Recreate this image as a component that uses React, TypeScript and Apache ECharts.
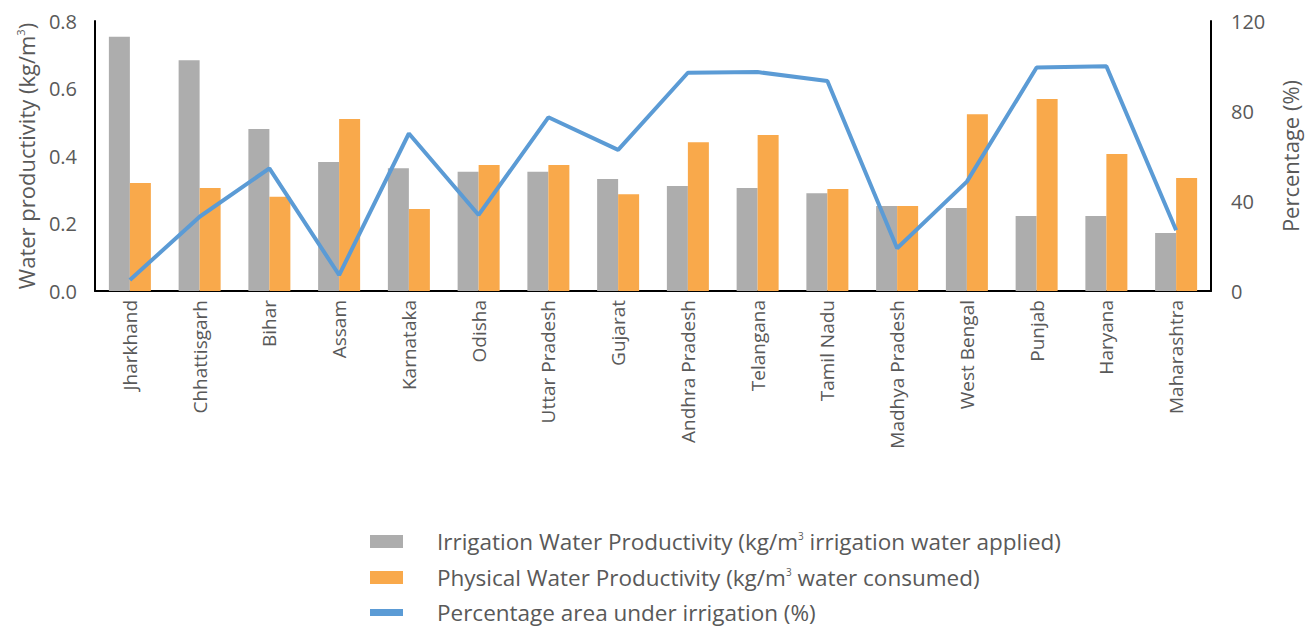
import React, { useEffect, useRef } from "react";
import * as echarts from "echarts";

const states = [
  "Jharkhand", "Chhattisgarh", "Bihar", "Assam", "Karnataka", "Odisha",
  "Uttar Pradesh", "Gujarat", "Andhra Pradesh", "Telangana", "Tamil Nadu",
  "Madhya Pradesh", "West Bengal", "Punjab", "Haryana", "Maharashtra",
];
const irrigationWP = [0.753, 0.684, 0.48, 0.382, 0.364, 0.353, 0.353, 0.332, 0.311, 0.305, 0.29, 0.252, 0.246, 0.222, 0.222, 0.172];
const physicalWP = [0.32, 0.305, 0.279, 0.51, 0.243, 0.373, 0.373, 0.287, 0.441, 0.462, 0.302, 0.252, 0.524, 0.569, 0.406, 0.335];
const pctIrrigated = [4.9, 33, 54.5, 7.1, 70, 33.8, 77.2, 62.7, 97, 97.3, 93.3, 19, 48.6, 99.3, 99.9, 27];

const leftTicks = { min: 0, max: 0.8, interval: 0.2 };
const rightTicks = { min: 0, max: 120, interval: 40 };

const seriesNames = [
  "Irrigation Water Productivity (kg/m3 irrigation water applied)",
  "Physical Water Productivity (kg/m3 water consumed)",
  "Percentage area under irrigation (%)",
];

const FONT = "'Open Sans', 'Noto Sans', sans-serif";
const TXT = "#595959";

export default function App() {
  const ref = useRef<HTMLDivElement>(null);
  useEffect(() => {
    if (!ref.current) return;
    const chart = echarts.init(ref.current, undefined, { renderer: "svg" });
    const rich = {
      sup: { fontSize: 11, verticalAlign: "top", color: TXT, fontFamily: FONT, padding: [0, 0, 9, 0] },
    };
    const legendTops = [530, 566, 601];
    const legends = seriesNames.map((n, i) => ({
      orient: "vertical",
      left: 370,
      top: legendTops[i],
      padding: 0,
      itemWidth: 33,
      itemHeight: i === 2 ? 7 : 13,
      icon: "rect",
      textStyle: {
        fontSize: 22.5, lineHeight: 22, color: TXT, fontFamily: FONT, padding: [0, 0, 0, 29],
        rich: {
          sup: { fontSize: 10, lineHeight: 10, verticalAlign: "top", color: TXT, fontFamily: FONT, padding: [0, 0, 10, 0] },
        },
      },
      formatter: (name: string) => name.replace("m3", "m{sup|3}"),
      data: [n],
    }));
    chart.setOption({
      animation: false,
      textStyle: { fontFamily: FONT },
      grid: { left: 95, right: 97, top: 21, bottom: 338, containLabel: false },
      legend: legends,
      xAxis: {
        type: "category",
        data: states,
        axisLine: { show: true, lineStyle: { color: "#000", width: 2 } },
        axisTick: { show: false },
        axisLabel: { rotate: 90, fontSize: 19, color: TXT, fontFamily: FONT, margin: 9, interval: 0 },
      },
      yAxis: [
        {
          type: "value",
          ...leftTicks,
          name: "Water productivity (kg/m{sup|3})",
          nameLocation: "middle",
          nameGap: 58,
          nameTextStyle: { fontSize: 22, color: TXT, fontFamily: FONT, rich },
          axisLine: { show: true, lineStyle: { color: "#000", width: 2 } },
          axisTick: { show: false },
          splitLine: { show: false },
          axisLabel: { fontSize: 20, color: TXT, fontFamily: FONT, margin: 18, formatter: (v: number) => v.toFixed(1) },
        },
        {
          type: "value",
          ...rightTicks,
          name: "Percentage (%)",
          nameLocation: "middle",
          nameGap: 68,
          nameRotate: 90,
          nameTextStyle: { fontSize: 22, color: TXT, fontFamily: FONT },
          axisLine: { show: true, lineStyle: { color: "#000", width: 2 } },
          axisTick: { show: false },
          splitLine: { show: false },
          axisLabel: { fontSize: 20, color: TXT, fontFamily: FONT, margin: 20 },
        },
      ],
      series: [
        {
          name: seriesNames[0],
          type: "bar",
          data: irrigationWP,
          barWidth: 21,
          barGap: "0%",
          itemStyle: { color: "#ADADAD" },
        },
        {
          name: seriesNames[1],
          type: "bar",
          data: physicalWP,
          barWidth: 21,
          barGap: "0%",
          itemStyle: { color: "#F9A94B" },
        },
        {
          name: seriesNames[2],
          type: "line",
          yAxisIndex: 1,
          data: pctIrrigated,
          symbol: "none",
          lineStyle: { color: "#5B9BD5", width: 4 },
          itemStyle: { color: "#5B9BD5" },
        },
      ],
    });
    return () => chart.dispose();
  }, []);
  return <div ref={ref} style={{ width: 1309, height: 629, position: "absolute", left: 0, top: 0 }} />;
}
